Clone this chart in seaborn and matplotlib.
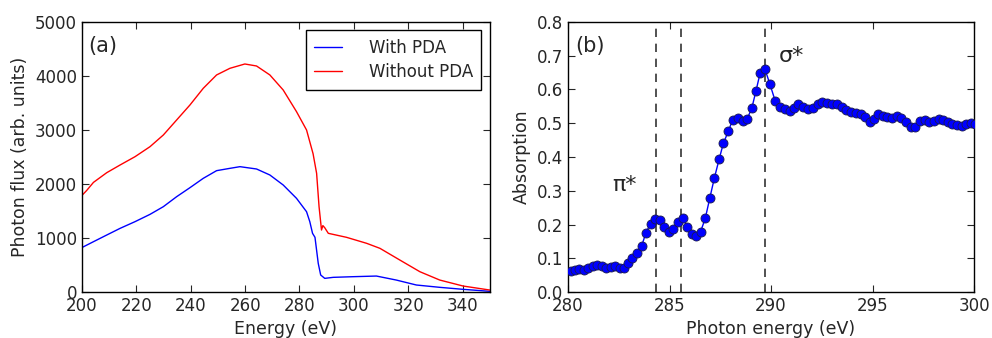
#!/usr/bin/env python
# -*- coding: utf-8 -*-

"""
Photon flux with/without PDA and NEXAFS absorption spectrum
"""

import matplotlib.pyplot as plt
import numpy as np
import pandas as pd
import seaborn as sns

# panel (a): photon flux vs energy
energy_red = [200.1, 201.7, 204.2, 209.1, 214.0, 219.5, 225.0, 229.9, 234.8,
              239.7, 244.6, 249.5, 254.4, 259.9, 264.2, 269.1, 274.0, 278.9,
              282.6, 285.0, 286.3, 287.2, 288.1, 288.6, 289.3, 290.6, 297.3,
              304.7, 309.6, 316.9, 324.3, 331.6, 340.2, 350.0]
flux_red = [1796, 1880, 2030, 2210, 2352, 2506, 2691, 2907, 3185,
            3463, 3772, 4019, 4142, 4222, 4185, 4019, 3741, 3340,
            3000, 2560, 2198, 1580, 1148, 1230, 1190, 1087, 1013,
            902, 809, 593, 376, 222, 111, 37]

energy_blue = [200.1, 204.2, 209.1, 214.0, 219.5, 225.0, 229.9, 234.8, 239.7,
               244.6, 249.5, 254.4, 258.1, 264.2, 269.1, 274.0, 278.9, 282.6,
               283.8, 284.8, 285.7, 286.9, 287.8, 289.3, 292.4, 299.7, 308.3,
               315.6, 323.0, 331.6, 340.2, 350.0]
flux_blue = [827, 932, 1056, 1179, 1303, 1438, 1580, 1765, 1932,
             2105, 2247, 2290, 2321, 2278, 2167, 1982, 1735, 1487,
             1302, 1087, 1013, 531, 315, 253, 272, 284, 296,
             222, 130, 87, 50, 13]

# panel (b): absorption vs photon energy
photon_energy = [280.13, 280.34, 280.56, 280.78, 281.00, 281.22, 281.44, 281.66,
                 281.88, 282.10, 282.32, 282.54, 282.76, 282.97, 283.17, 283.38,
                 283.63, 283.84, 284.07, 284.29, 284.53, 284.75, 284.98, 285.19,
                 285.43, 285.65, 285.88, 286.09, 286.31, 286.53, 286.76, 286.99,
                 287.21, 287.45, 287.65, 287.90, 288.11, 288.36, 288.61, 288.83,
                 289.05, 289.26, 289.46, 289.70, 289.95, 290.20, 290.44, 290.69,
                 290.92, 291.14, 291.35, 291.59, 291.84, 292.08, 292.30, 292.50,
                 292.74, 292.99, 293.24, 293.48, 293.69, 293.94, 294.19, 294.42,
                 294.63, 294.88, 295.08, 295.29, 295.50, 295.73, 295.96, 296.19,
                 296.42, 296.65, 296.88, 297.10, 297.33, 297.56, 297.79, 298.02,
                 298.25, 298.48, 298.70, 298.93, 299.16, 299.39, 299.62, 299.85,
                 300.04]
absorption = [0.063, 0.066, 0.067, 0.065, 0.072, 0.078, 0.080, 0.076,
              0.070, 0.075, 0.078, 0.070, 0.070, 0.085, 0.100, 0.115,
              0.137, 0.176, 0.203, 0.216, 0.213, 0.194, 0.179, 0.186,
              0.208, 0.218, 0.194, 0.171, 0.167, 0.179, 0.218, 0.280,
              0.338, 0.395, 0.440, 0.477, 0.510, 0.517, 0.508, 0.514,
              0.544, 0.596, 0.648, 0.660, 0.615, 0.567, 0.547, 0.541,
              0.537, 0.545, 0.557, 0.549, 0.541, 0.544, 0.556, 0.564,
              0.559, 0.557, 0.557, 0.549, 0.539, 0.534, 0.529, 0.526,
              0.519, 0.505, 0.514, 0.527, 0.522, 0.518, 0.517, 0.521,
              0.515, 0.503, 0.489, 0.490, 0.506, 0.509, 0.504, 0.508,
              0.513, 0.511, 0.505, 0.499, 0.495, 0.492, 0.497, 0.500,
              0.497]

pi_lines = [284.35, 285.55]
sigma_line = 289.7


def style_axes(ax):
  ax.tick_params(bottom=True, top=True, left=True, right=True,
                 direction='in', length=5, width=0.8, labelsize=12)
  for sp in ax.spines.values():
    sp.set_color('black')
    sp.set_linewidth(1.0)


def main():
  sns.set_style('ticks')
  plt.rcParams['font.family'] = ['DejaVu Sans']

  fig = plt.figure(figsize=(9.92, 3.38), dpi=100)
  ax1 = fig.add_axes([0.0827, 0.136, 0.411, 0.799])
  ax2 = fig.add_axes([0.5726, 0.136, 0.4093, 0.799])

  # (a)
  df_a = pd.concat([
      pd.DataFrame({'energy': energy_blue, 'flux': flux_blue, 'label': 'With PDA'}),
      pd.DataFrame({'energy': energy_red, 'flux': flux_red, 'label': 'Without PDA'}),
  ])
  sns.lineplot(data=df_a, x='energy', y='flux', hue='label',
               palette={'With PDA': '#0000ff', 'Without PDA': '#ff0000'},
               linewidth=1.0, ax=ax1)
  ax1.set_xlim(200, 350)
  ax1.set_ylim(0, 5000)
  ax1.set_xticks(np.arange(200, 341, 20))
  ax1.set_yticks(np.arange(0, 5001, 1000))
  ax1.set_xlabel('Energy (eV)', fontsize=12.5)
  ax1.set_ylabel('Photon flux (arb. units)', fontsize=12.5)
  style_axes(ax1)
  ax1.legend(loc='upper right', fontsize=12, fancybox=False, frameon=True,
             edgecolor='black', handlelength=1.7, handletextpad=1.6,
             borderpad=0.5, labelspacing=0.4, framealpha=1)
  ax1.get_legend().get_frame().set_linewidth(1.0)
  ax1.text(0.015, 0.91, '(a)', transform=ax1.transAxes, fontsize=15,
           va='center', ha='left')

  # (b)
  for x in pi_lines + [sigma_line]:
    ax2.axvline(x, color='#333333', linestyle='--', linewidth=1.2,
                dashes=(5, 4), zorder=1)
  sns.lineplot(x=photon_energy, y=absorption, color='#0000ff', linewidth=1.0,
               marker='o', markersize=6.5, markeredgecolor='#1a1a4d',
               markeredgewidth=0.6, ax=ax2, zorder=3)
  ax2.set_xlim(280, 300)
  ax2.set_ylim(0, 0.8)
  ax2.set_xticks(np.arange(280, 301, 5))
  ax2.set_yticks(np.arange(0, 0.81, 0.1))
  ax2.yaxis.set_major_formatter(plt.FormatStrFormatter('%.1f'))
  ax2.set_xlabel('Photon energy (eV)', fontsize=12.5)
  ax2.set_ylabel('Absorption', fontsize=12.5)
  style_axes(ax2)
  ax2.text(0.017, 0.91, '(b)', transform=ax2.transAxes, fontsize=15,
           va='center', ha='left')
  ax2.text(282.2, 0.317, 'π*', fontsize=16, va='center', ha='left')
  ax2.text(290.4, 0.70, 'σ*', fontsize=16, va='center', ha='left')

  fig.savefig('out.png', dpi=100)
  plt.close(fig)


if __name__ == '__main__':
  main()
